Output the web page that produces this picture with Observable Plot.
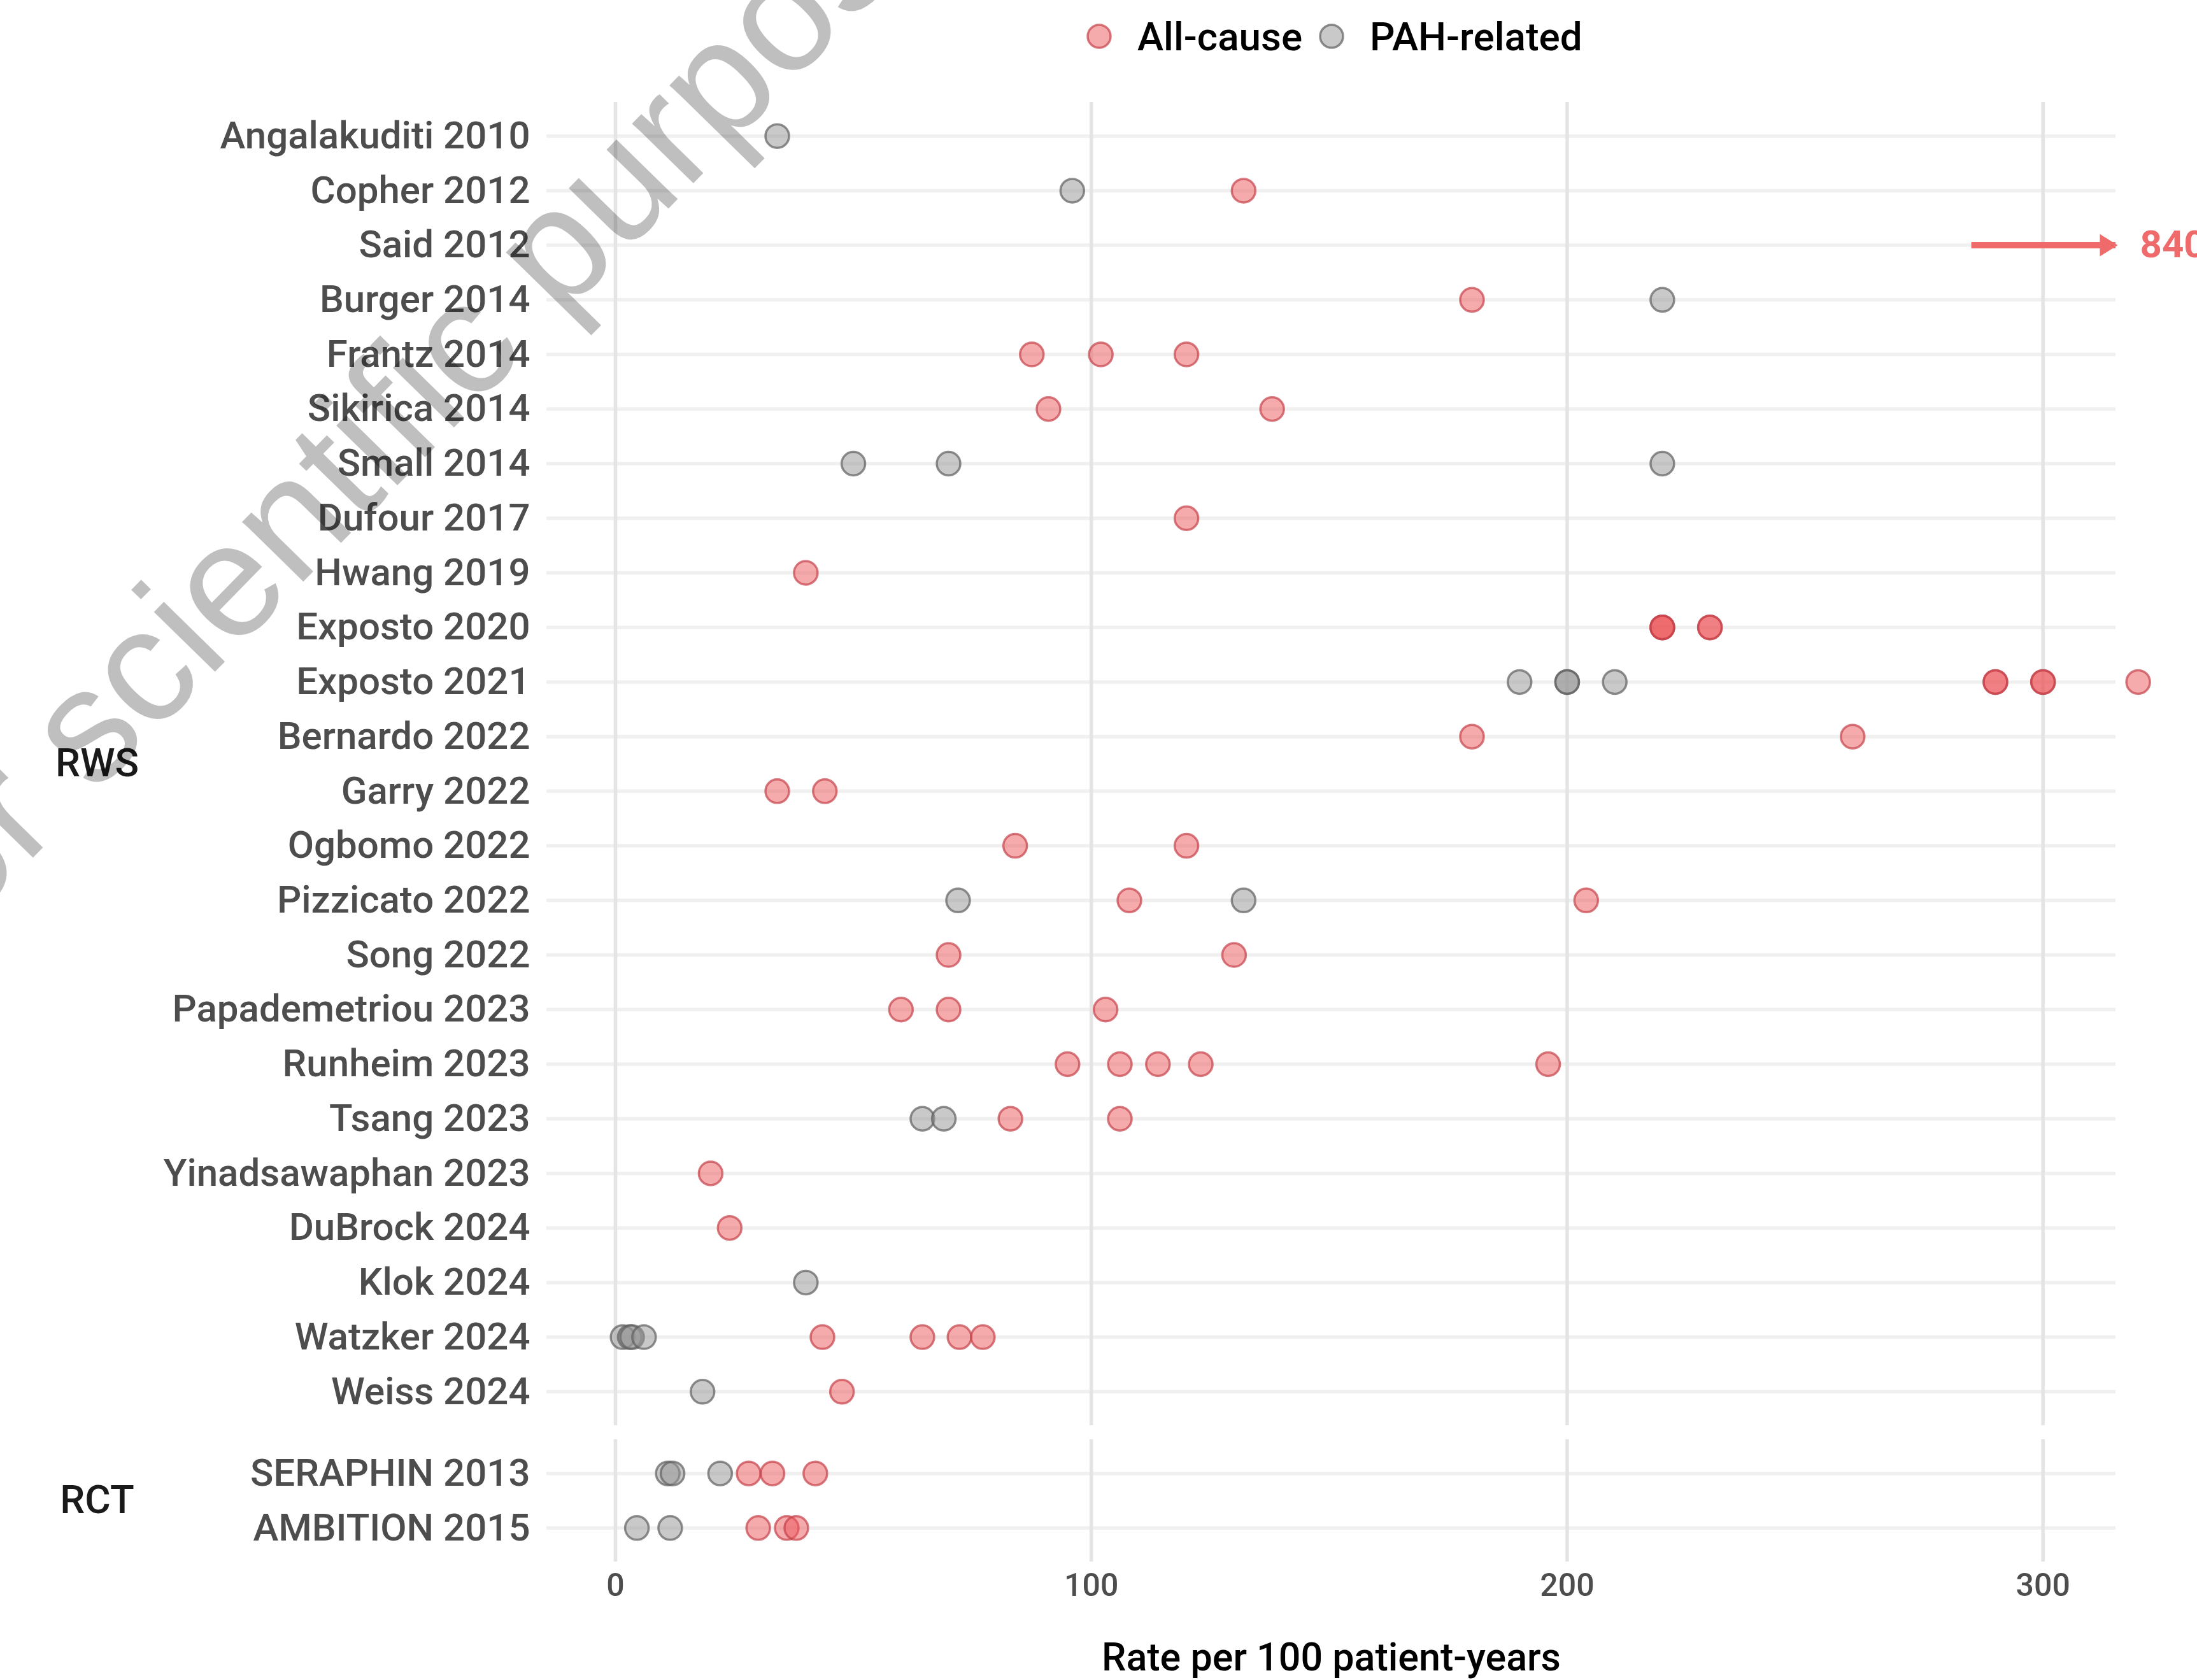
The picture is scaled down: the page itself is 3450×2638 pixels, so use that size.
<!DOCTYPE html>
<html>
<head>
<meta charset="utf-8">
<script src="https://cdn.jsdelivr.net/npm/d3@7"></script>
<script src="https://cdn.jsdelivr.net/npm/@observablehq/plot@0.6"></script>
<style>
  html, body { margin: 0; padding: 0; background: #fff; }
  body { width: 3450px; height: 2638px; overflow: hidden; position: relative; font-family: Roboto, "Liberation Sans", sans-serif; }
  .abs { position: absolute; left: 0; }
  #legend { position: absolute; top: 0; left: 0; width: 3450px; height: 120px; }
  .lg-item { position: absolute; top: 27px; height: 60px; display: flex; align-items: center; font-size: 62px; font-weight: 500; color: #000; }
  .lg-item svg { margin-right: 40px; }
  #wm { position: absolute; left: 0; top: 0; pointer-events: none; }
</style>
</head>
<body>
<div id="legend"></div>
<div id="rws" class="abs" style="top:0"></div>
<div id="rct" class="abs" style="top:2238px"></div>
<svg id="wm" width="3450" height="2638"></svg>
<script>
// ---------------- data ----------------
const seriesNames = ["All-cause", "PAH-related"];

const rwsStudies = [
  "Angalakuditi 2010", "Copher 2012", "Said 2012", "Burger 2014", "Frantz 2014",
  "Sikirica 2014", "Small 2014", "Dufour 2017", "Hwang 2019", "Exposto 2020",
  "Exposto 2021", "Bernardo 2022", "Garry 2022", "Ogbomo 2022", "Pizzicato 2022",
  "Song 2022", "Papademetriou 2023", "Runheim 2023", "Tsang 2023", "Yinadsawaphan 2023",
  "DuBrock 2024", "Klok 2024", "Watzker 2024", "Weiss 2024"
];
const rwsAllCause = [
  [], [132], [], [180], [87.5, 102, 120],
  [91, 138], [], [120], [40], [220, 220, 220, 230, 230],
  [290, 290, 300, 300, 320], [180, 260], [34, 44], [84, 120], [108, 204],
  [70, 130], [60, 70, 103], [95, 106, 114, 123, 196], [83, 106], [20],
  [24], [], [43.5, 64.5, 72.3, 77.2], [47.6]
];
const rwsPahRelated = [
  [34], [96], [], [220], [],
  [], [50, 70, 220], [], [], [],
  [190, 200, 200, 210], [], [], [], [72, 132],
  [], [], [], [64.5, 69], [],
  [], [40], [1.5, 3, 3.5, 6], [18.3]
];

const rctStudies = ["SERAPHIN 2013", "AMBITION 2015"];
const rctAllCause = [[28, 33, 42], [30, 36, 38]];
const rctPahRelated = [[11, 12, 22], [4.5, 11.5]];

const groupNames = ["RWS", "RCT"];

// off-scale value (shown as an arrow)
const offScaleStudy = ["Said 2012"];
const offScaleValue = [840];
const offScaleArrowFrom = [285];

const xTicks = [0, 100, 200, 300];
const xDomain = [-14.45, 315.3];
const xTitle = "Rate per 100 patient-years";
const watermark = "For scientific purposes only";

// ---------------- styling ----------------
const RED_FILL = "#eb5559", RED_STROKE = "#c4414a";
const GRAY_FILL = "#939393", GRAY_STROKE = "#5f5f5f";
const ARROW = "#ef6b6b";
const FONT = "Roboto, 'Liberation Sans', sans-serif";

function rows(studies, lists, type) {
  return studies.flatMap((s, i) => lists[i].map(v => ({study: s, type, rate: v})));
}

const triRight = {
  draw(ctx) {
    ctx.moveTo(3, 0);
    ctx.lineTo(-25, -17.5);
    ctx.lineTo(-25, 17.5);
    ctx.closePath();
  }
};

function panel({studies, ac, pah, group, height, marginTop, marginBottom, bottomAxis, extra}) {
  const acRows = rows(studies, ac, seriesNames[0]);
  const pahRows = rows(studies, pah, seriesNames[1]);
  const marks = [
    Plot.ruleY(studies, {y: d => d, stroke: "#f0f0f0", strokeWidth: 5.5}),
    Plot.ruleX(xTicks, {x: d => d, stroke: "#e4e4e4", strokeWidth: 5.5}),
    Plot.axisY({tickSize: 0, tickPadding: 26, fontSize: 60, fontWeight: 500, fill: "#4d4d4d", label: null}),
    Plot.text([group], {text: d => d, frameAnchor: "left", dx: -706, textAnchor: "middle", fontSize: 62, fontWeight: 500, fill: "#1a1a1a"}),
    Plot.dot(pahRows, {x: "rate", y: "study", r: 18.5, fill: GRAY_FILL, fillOpacity: 0.5, stroke: GRAY_STROKE, strokeOpacity: 0.7, strokeWidth: 3.5}),
    Plot.dot(acRows, {x: "rate", y: "study", r: 18.5, fill: RED_FILL, fillOpacity: 0.5, stroke: RED_STROKE, strokeOpacity: 0.7, strokeWidth: 3.5})
  ];
  if (extra) marks.push(...extra);
  if (bottomAxis) {
    marks.push(
      Plot.axisX({ticks: xTicks, tickSize: 0, tickPadding: 18, fontSize: 50, fontWeight: 500, fill: "#4d4d4d", label: null, tickFormat: d => String(d)}),
      Plot.text([xTitle], {text: d => d, frameAnchor: "bottom", dy: 151, fontSize: 61, fontWeight: 500, fill: "#000", lineAnchor: "middle"})
    );
  }
  return Plot.plot({
    width: 3450,
    height,
    marginTop,
    marginBottom,
    marginLeft: 858,
    marginRight: 128,
    style: {fontFamily: FONT, background: "transparent", overflow: "visible"},
    x: {domain: xDomain, axis: null},
    y: {type: "point", domain: studies, padding: 0.62, round: false, axis: null},
    marks
  });
}

const arrowRows = offScaleStudy.map((s, i) => ({study: s, value: offScaleValue[i], from: offScaleArrowFrom[i]}));

const rws = panel({
  studies: rwsStudies, ac: rwsAllCause, pah: rwsPahRelated, group: groupNames[0],
  height: 2238, marginTop: 160, marginBottom: 0, bottomAxis: false,
  extra: [
    Plot.ruleY(arrowRows, {y: "study", x1: "from", x2: () => xDomain[1], stroke: ARROW, strokeWidth: 10}),
    Plot.dot(arrowRows, {y: "study", frameAnchor: "right", symbol: triRight, r: 10, fill: ARROW, stroke: "none"}),
    Plot.text(arrowRows, {y: "study", text: d => String(d.value), frameAnchor: "right", dx: 38, textAnchor: "start", fontSize: 60, fontWeight: "bold", fill: ARROW})
  ]
});
document.getElementById("rws").appendChild(rws);

const rct = panel({
  studies: rctStudies, ac: rctAllCause, pah: rctPahRelated, group: groupNames[1],
  height: 400, marginTop: 22, marginBottom: 186, bottomAxis: true
});
document.getElementById("rct").appendChild(rct);

// ---------------- legend ----------------
const legend = document.getElementById("legend");
const legendPos = [1706, 2071];
const legendStyle = [[RED_FILL, RED_STROKE], [GRAY_FILL, GRAY_STROKE]];
seriesNames.forEach((name, i) => {
  const item = document.createElement("div");
  item.className = "lg-item";
  item.style.left = legendPos[i] + "px";
  item.innerHTML = `<svg width="40" height="40"><circle cx="20" cy="20" r="18" fill="${legendStyle[i][0]}" fill-opacity="0.5" stroke="${legendStyle[i][1]}" stroke-opacity="0.7" stroke-width="3.5"/></svg><span>${name}</span>`;
  legend.appendChild(item);
});

// ---------------- watermark ----------------
const wm = document.getElementById("wm");
wm.innerHTML = `<text transform="translate(-168,1571) rotate(-45.6)" font-family="'Liberation Sans', Arial, sans-serif" font-size="254" fill="#000" fill-opacity="0.25">${watermark}</text>`;
</script>
</body>
</html>
